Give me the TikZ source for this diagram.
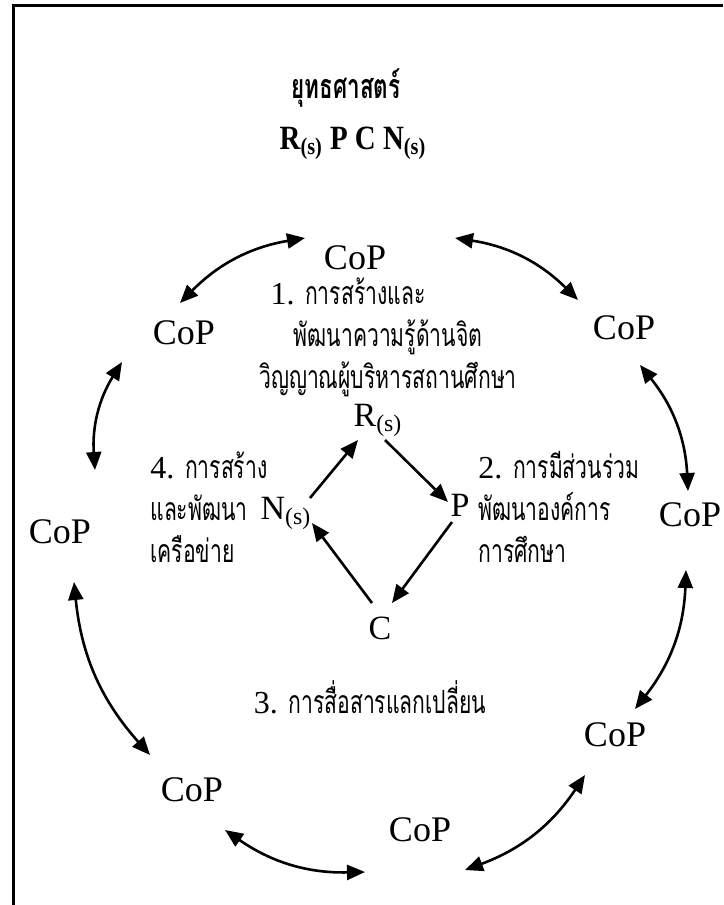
\documentclass[tikz,border=0pt]{standalone}
\usepackage{fontspec}
\setmainfont{Liberation Serif}
\newfontfamily\thaifont[Script=Thai,FakeStretch=0.66]{Loma}
\newfontfamily\headfont[FakeStretch=0.85]{Liberation Serif}
\usetikzlibrary{arrows.meta}

\begin{document}
\begin{tikzpicture}[x=0.5pt, y=-0.5pt,
      copbox/.style={font=\fontsize{18}{20}\selectfont, inner sep=0pt},
      corebox/.style={font=\fontsize{17}{20}\selectfont, inner sep=0pt},
      stepbox/.style={font=\fontsize{16}{21}\selectfont, inner sep=0pt},
      headbox/.style={font=\headfont\bfseries\fontsize{17}{20}\selectfont, inner sep=0pt},
      link/.style={{Triangle[length=9pt,width=7.5pt]}-{Triangle[length=9pt,width=7.5pt]},
                   line width=1.3pt, bend left=18},
      flow/.style={-{Triangle[length=9pt,width=7.5pt]}, line width=1.3pt},
      frame/.style={line width=1.5pt}]

    \useasboundingbox (0,0) rectangle (723,905);
    \draw[frame] (13,905) -- (13,5) -- (723,5);

    % heading
    \node[headbox] (title) at (346,88) {\thaifont ยุทธศาสตร์};
    \node[headbox] (code) at (353,143)
      {R\textsubscript{(s)} P C N\textsubscript{(s)}};

    % ring of CoP
    \node[copbox] (cop1) at (355,258) {CoP};
    \node[copbox] (cop2) at (624,328) {CoP};
    \node[copbox] (cop3) at (690,515) {CoP};
    \node[copbox] (cop4) at (615,735) {CoP};
    \node[copbox] (cop5) at (420,830) {CoP};
    \node[copbox] (cop6) at (192,790) {CoP};
    \node[copbox] (cop7) at (60,532) {CoP};
    \node[copbox] (cop8) at (184,333) {CoP};

    \draw[link] ([shift={(100,-20)}]cop1.center) to ([shift={(-46,-28)}]cop2.center);
    \draw[link] ([shift={(16,37)}]cop2.center) to ([shift={(-2,-24)}]cop3.center);
    \draw[link] ([shift={(-4,55)}]cop3.center) to ([shift={(20,-26)}]cop4.center);
    \draw[link] ([shift={(-30,40)}]cop4.center) to ([shift={(45,40)}]cop5.center);
    \draw[link] ([shift={(-55,42)}]cop5.center) to ([shift={(33,40)}]cop6.center);
    \draw[link] ([shift={(-42,-35)}]cop6.center) to ([shift={(14,50)}]cop7.center);
    \draw[link] ([shift={(35,-62)}]cop7.center) to ([shift={(-62,29)}]cop8.center);
    \draw[link] ([shift={(-4,-30)}]cop8.center) to ([shift={(-50,-20)}]cop1.center);

    % strategies
    \node[stepbox, align=center] (st1) at (388,337)
      {1. {\thaifont การสร้างและ}\hspace*{40pt}\\
       {\thaifont พัฒนาความรู้ด้านจิต}\\
       {\thaifont วิญญาณผู้บริหารสถานศึกษา}};
    \node[stepbox, align=left, anchor=west] (st2) at (478,507)
      {2. {\thaifont การมีส่วนร่วม}\\
       {\thaifont พัฒนาองค์การ}\\
       {\thaifont การศึกษา}};
    \node[stepbox] (st3) at (370,697) {3. {\thaifont การสื่อสารแลกเปลี่ยน}};
    \node[stepbox, align=left, anchor=west] (st4) at (150,507)
      {4. {\thaifont การสร้าง}\\
       {\thaifont และพัฒนา}\\
       {\thaifont เครือข่าย}};

    % core cycle
    \node[corebox] (rs) at (378,420) {R\textsubscript{(s)}};
    \node[corebox] (pn) at (460,505) {P};
    \node[corebox] (cn) at (380,628) {C};
    \node[corebox] (nn) at (286,513) {N\textsubscript{(s)}};

    \draw[flow] ([shift={(24,-15)}]nn.center) -- ([shift={(-20,20)}]rs.center);
    \draw[flow] ([shift={(7,20)}]rs.center) -- ([shift={(-12,-3)}]pn.center);
    \draw[flow] ([shift={(-8,17)}]pn.center) -- ([shift={(12,-25)}]cn.center);
    \draw[flow] ([shift={(-8,-25)}]cn.center) -- ([shift={(26,10)}]nn.center);
\end{tikzpicture}
\end{document}
